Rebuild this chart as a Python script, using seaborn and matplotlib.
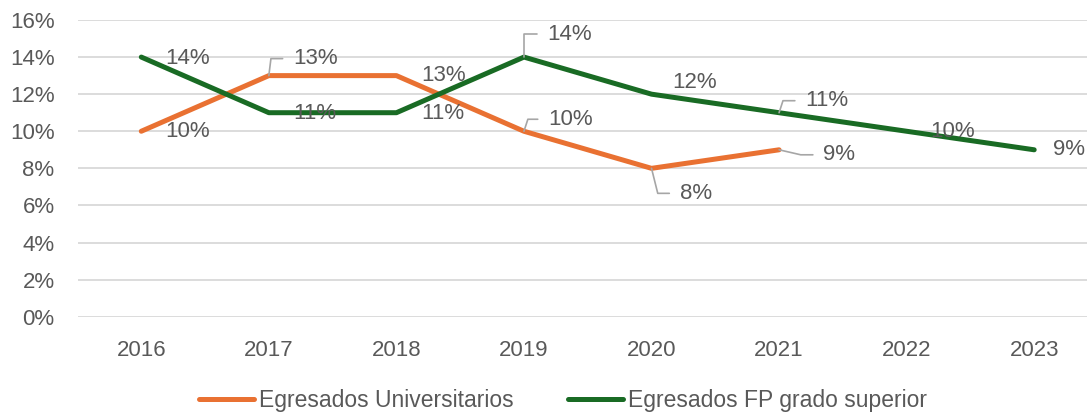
import numpy as np
import pandas as pd
import matplotlib
matplotlib.use("Agg")
import matplotlib.pyplot as plt
import seaborn as sns
from matplotlib.lines import Line2D
from matplotlib.ticker import FuncFormatter

# data
years = ["2016", "2017", "2018", "2019", "2020", "2021", "2022", "2023"]
univ = [0.10, 0.13, 0.13, 0.10, 0.08, 0.09, np.nan, np.nan]
fp_sup = [0.14, 0.11, 0.11, 0.14, 0.12, 0.11, 0.10, 0.09]
series_names = ["Egresados Universitarios", "Egresados FP grado superior"]

ORANGE = "#E97132"
GREEN = "#196B24"
TEXT = "#595959"
GRID = "#D9D9D9"
FS = 16

# label placement (pixels: dx to text left edge, dy up to text centre, leader angle or None)
univ_labels = [(24, 0, None), (24, 17, 83), (25, 0, None), (24, 12, 72), (28, -25, -76), (44, -5, -13)]
fp_labels = [(24, -1, None), (24, -1, None), (25, -1, None), (23, 23, 90),
             (21, 12, None), (26, 12, 72), (24, 0, None), (19, 0, None)]

sns.set_theme(style="white")
plt.rcParams["font.family"] = ["Liberation Sans", "DejaVu Sans"]
plt.rcParams["font.size"] = FS

df = pd.DataFrame({
    "pos": list(range(len(years))) * 2,
    "valor": univ + fp_sup,
    "serie": [series_names[0]] * len(years) + [series_names[1]] * len(years),
}).dropna()

fig = plt.figure(figsize=(10.87, 4.12), dpi=100)
ax = fig.add_axes([0.0713, 0.2313, 0.9388, 0.7202])

sns.lineplot(data=df, x="pos", y="valor", hue="serie", palette=[ORANGE, GREEN],
             estimator=None, sort=False, legend=False, lw=3.6, ax=ax)
for ln in ax.get_lines():
    ln.set_solid_capstyle("round")
    ln.set_solid_joinstyle("round")

ax.set_xlim(-0.5, len(years) - 0.5)
ax.set_ylim(0, 0.16)
ax.set_yticks(np.arange(0, 0.161, 0.02))
ax.yaxis.set_major_formatter(FuncFormatter(lambda v, _: f"{v:.0%}"))
ax.set_xticks(range(len(years)))
ax.set_xticklabels(years)
ax.set_xlabel("")
ax.set_ylabel("")
ax.tick_params(axis="x", length=0, pad=17, colors=TEXT, labelsize=FS)
ax.tick_params(axis="y", length=0, pad=16.5, colors=TEXT, labelsize=FS)
ax.yaxis.grid(True, color=GRID, lw=1.3)
ax.xaxis.grid(False)
ax.set_axisbelow(True)
for s in ax.spines.values():
    s.set_visible(False)


def add_labels(values, placements):
    for i, (v, (dx, dy, ang)) in enumerate(zip(values, placements)):
        if np.isnan(v):
            continue
        kw = dict(xy=(i, v), xytext=(dx, dy), textcoords="offset pixels",
                  ha="left", va="center", color=TEXT, fontsize=FS)
        if ang is not None:
            kw["arrowprops"] = dict(arrowstyle="-", color="#A6A6A6", lw=1.2,
                                    shrinkA=5, shrinkB=0, relpos=(0, 0.5),
                                    connectionstyle=f"angle,angleA=0,angleB={ang},rad=0")
        ax.annotate(f"{v:.0%}", **kw)


add_labels(univ, univ_labels)
add_labels(fp_sup, fp_labels)

handles = [Line2D([], [], color=ORANGE, lw=3.6, solid_capstyle="round"),
           Line2D([], [], color=GREEN, lw=3.6, solid_capstyle="round")]
fig.legend(handles, series_names, loc="center", bbox_to_anchor=(0.518, 0.029),
           ncol=2, frameon=False, fontsize=16.5, labelcolor=TEXT,
           handlelength=2.4, handletextpad=0.22, columnspacing=2.4)

fig.savefig("out.png", dpi=100)
